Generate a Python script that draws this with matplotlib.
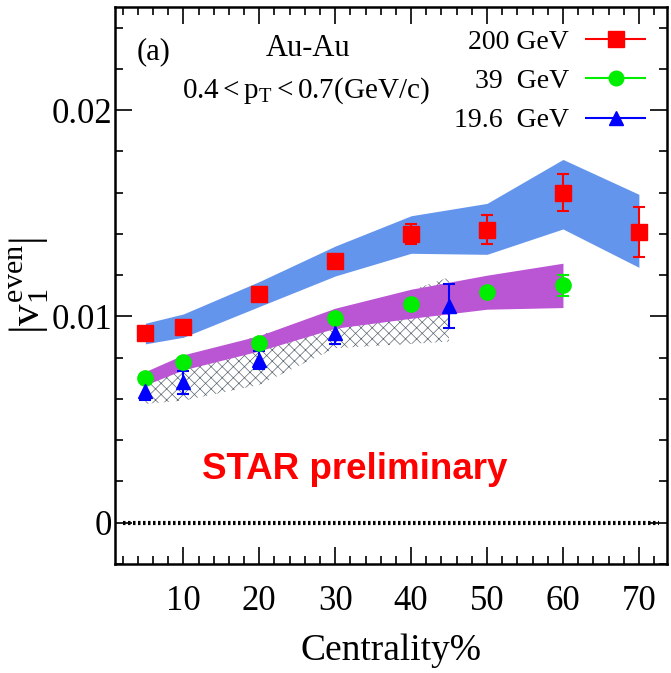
import matplotlib
matplotlib.use("Agg")
import matplotlib.pyplot as plt
from matplotlib.ticker import MultipleLocator, FixedLocator, FuncFormatter
from matplotlib.legend_handler import HandlerErrorbar

plt.rcParams['font.family'] = ['Liberation Serif', 'DejaVu Serif']
plt.rcParams['mathtext.fontset'] = 'custom'
plt.rcParams['mathtext.rm'] = 'Liberation Serif'
plt.rcParams['mathtext.it'] = 'Liberation Serif'
plt.rcParams['hatch.color'] = '#5a6670'
plt.rcParams['hatch.linewidth'] = 0.5

# 200 GeV
cent_200 = [5, 10, 20, 30, 40, 50, 60, 70]
v1_200 = [0.0092, 0.0095, 0.0111, 0.0127, 0.0140, 0.0142, 0.0160, 0.0141]
err_200 = [0.0002, 0.0002, 0.0002, 0.0002, 0.0005, 0.0007, 0.0009, 0.0012]
sys_200_lo = [0.00867, 0.00899, 0.01048, 0.01196, 0.01306, 0.01301, 0.01424, 0.01238]
sys_200_hi = [0.00967, 0.01012, 0.01169, 0.01341, 0.01488, 0.01548, 0.01761, 0.01592]

# 39 GeV
cent_39 = [5, 10, 20, 30, 40, 50, 60]
v1_39 = [0.0070, 0.0078, 0.0087, 0.0099, 0.0106, 0.0112, 0.0115]
err_39 = [0.0002, 0.0002, 0.0002, 0.0002, 0.0002, 0.0002, 0.0005]
sys_39_lo = [0.00668, 0.00741, 0.00833, 0.00943, 0.00991, 0.01035, 0.01043]
sys_39_hi = [0.00733, 0.00814, 0.00907, 0.01040, 0.01132, 0.01200, 0.01258]

# 19.6 GeV
cent_19 = [5, 10, 20, 30, 45]
v1_19 = [0.0064, 0.0068, 0.0079, 0.0092, 0.0105]
err_19 = [0.00046, 0.00057, 0.00043, 0.00054, 0.00107]
sys_19_lo = [0.00576, 0.00592, 0.00668, 0.00846, 0.00878]
sys_19_hi = [0.00690, 0.00770, 0.00910, 0.01000, 0.01190]

labels = ['200 GeV', '39  GeV', '19.6  GeV']

fig = plt.figure(figsize=(6.71, 6.73), dpi=100)
ax = fig.add_axes([0.1714, 0.162, 0.8226, 0.8276])

# systematic bands
ax.fill_between(cent_200, sys_200_lo, sys_200_hi, color='#6495ed', lw=0, zorder=1)
ax.fill_between(cent_19, sys_19_lo, sys_19_hi, facecolor='none', edgecolor='#5a6670',
                hatch='xxx', lw=0, zorder=1.5)
ax.fill_between(cent_39, sys_39_lo, sys_39_hi, color='#ba55d3', lw=0, zorder=2)

# data points
ax.errorbar(cent_200, v1_200, yerr=err_200, fmt='s', color='red', ms=11.5,
            elinewidth=1.5, capsize=4, capthick=1.5, zorder=5)
ax.errorbar(cent_39, v1_39, yerr=err_39, fmt='o', color='#00ee00', ms=11,
            elinewidth=1.5, capsize=4, capthick=1.5, zorder=5)
ax.errorbar(cent_19, v1_19, yerr=err_19, fmt='^', color='blue', ms=10.5,
            elinewidth=1.5, capsize=4, capthick=1.5, zorder=5)

# zero line
ax.axhline(0, xmin=0.015, xmax=0.985, color='black', lw=3, ls=(0, (0.6, 0.6)),
           dash_capstyle='butt', zorder=3)

# legend entries with horizontal bars
h1 = ax.errorbar([], [], xerr=[], fmt='s', color='red', ms=11, elinewidth=1.5,
                 capsize=4, capthick=1.5)
h2 = ax.errorbar([], [], xerr=[], fmt='o', color='#00ee00', ms=10.5, elinewidth=1.5,
                 capsize=4, capthick=1.5)
h3 = ax.errorbar([], [], xerr=[], fmt='^', color='blue', ms=10, elinewidth=1.5,
                 capsize=4, capthick=1.5)
ax.legend([h1, h2, h3], labels, loc='upper right', bbox_to_anchor=(0.998, 0.99),
          frameon=False, markerfirst=False, fontsize=20, handlelength=2.4,
          handletextpad=0.5, labelspacing=0.5, borderaxespad=0.2,
          handler_map={h: HandlerErrorbar(xerr_size=1.1) for h in (h1, h2, h3)})

ax.set_xlim(1, 73.7)
ax.set_ylim(-0.002, 0.025)
ax.xaxis.set_major_locator(FixedLocator([10, 20, 30, 40, 50, 60, 70]))
ax.xaxis.set_minor_locator(MultipleLocator(2))
ax.yaxis.set_major_locator(FixedLocator([0, 0.01, 0.02]))
ax.yaxis.set_minor_locator(MultipleLocator(0.002))
ax.yaxis.set_major_formatter(FuncFormatter(lambda v, p: '0' if abs(v) < 1e-9 else '%.2f' % v))

ax.tick_params(which='both', direction='in', top=True, right=True, width=1.2)
ax.tick_params(which='major', length=12)
ax.tick_params(which='minor', length=6)
ax.tick_params(axis='x', which='major', labelsize=25, pad=15)
ax.tick_params(axis='y', which='major', labelsize=25, pad=2)
ax.tick_params(labelright=False, labeltop=False)
for s in ax.spines.values():
    s.set_linewidth(1.8)

ax.set_xlabel('Centrality%', fontsize=27, labelpad=11)
ax.set_ylabel(r'$|v_{1}^{even}|$', fontsize=31, labelpad=0)

ax.text(0.04, 0.92, '(a)', transform=ax.transAxes, fontsize=22, va='center')
ax.text(0.35, 0.925, 'Au-Au', transform=ax.transAxes, fontsize=22, ha='center', va='center')
ax.text(0.345, 0.85, r'$0.4 < p_{T} < 0.7$(GeV/c)', transform=ax.transAxes,
        fontsize=21, ha='center', va='center')
ax.text(0.435, 0.17, 'STAR preliminary', transform=ax.transAxes, fontsize=26.5,
        color='red', fontweight='bold', family='Liberation Sans', ha='center', va='center')

fig.savefig('out.png', dpi=100)
